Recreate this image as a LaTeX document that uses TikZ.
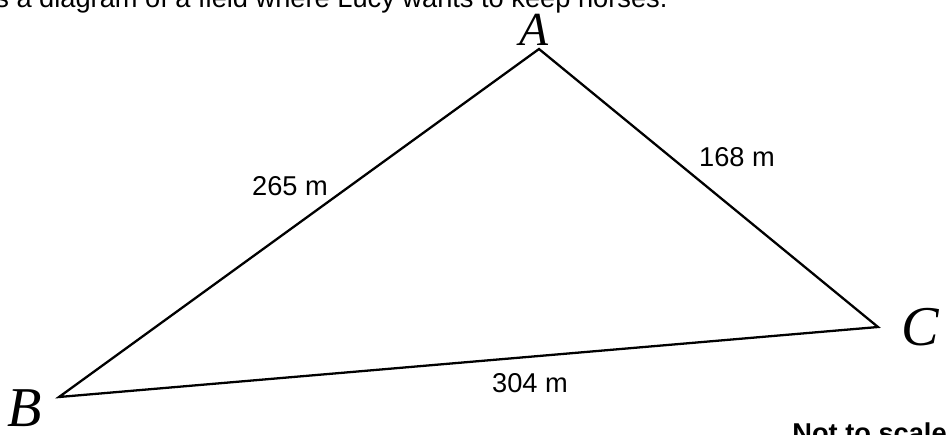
\documentclass[tikz,border=0pt]{standalone}
\usepackage{fontspec}
\setmainfont{Liberation Sans}
\newfontfamily\handfont{Liberation Serif}
\tikzset{
  side/.style={line width=1.3pt,line join=miter},
  lbl/.style={font=\fontsize{15.5pt}{18pt}\selectfont,inner sep=0pt},
  hand/.style={font=\handfont\itshape\fontsize{#1}{#1}\selectfont,inner sep=0pt},
}
\begin{document}
\begin{tikzpicture}[x=0.02cm,y=-0.02cm]
  \useasboundingbox (0,0) rectangle (951,434);
  \node[lbl,anchor=base west] (intro) at (-5,7) {s a diagram of a field where Lucy wants to keep horses.};
  % corners of the field
  \coordinate (A) at (539,49);
  \coordinate (B) at (59,397);
  \coordinate (C) at (878,327);
  \draw[side] (A) -- (C) -- (B) -- cycle;
  \node[hand=27pt] (a) at (534,30) {A};
  \node[hand=32pt] (b) at (25,408) {B};
  \node[hand=32pt] (c) at (920,327) {C};
  % lengths
  \node[lbl] (ab) at (290,186) {265 m};
  \node[lbl] (ac) at (737,157) {168 m};
  \node[lbl] (bc) at (530,383) {304 m};
  \node[lbl,anchor=base west,font=\bfseries\fontsize{15.5pt}{18pt}\selectfont] (note) at (792,442) {Not to scale};
\end{tikzpicture}
\end{document}
